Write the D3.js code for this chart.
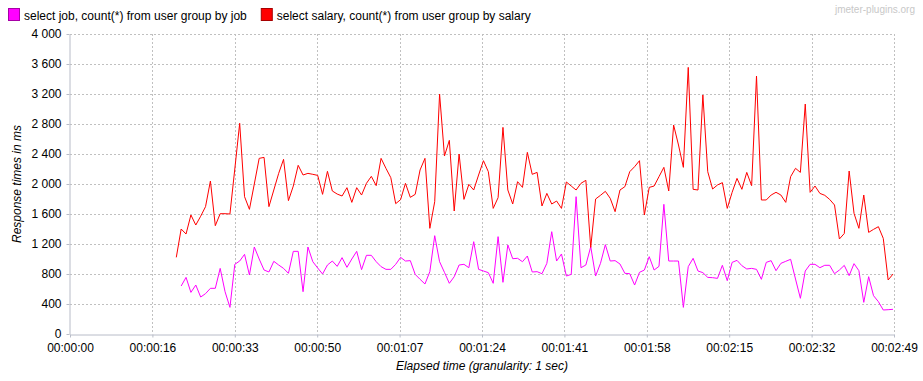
<!DOCTYPE html>
<html>
<head>
<meta charset="utf-8">
<script src="https://cdn.jsdelivr.net/npm/d3@7"></script>
<style>
  html, body { margin: 0; padding: 0; background: #ffffff; }
  svg { display: block; font-family: "Liberation Sans", Arial, sans-serif; }
</style>
</head>
<body>
<svg id="chart" width="923" height="381"></svg>
<script>
// ---------- data ----------
const seriesNames = [
  "select job, count(*) from user group by job",
  "select salary, count(*) from user group by salary"
];
const seriesColors = ["#ff00ff", "#ff0000"];

// elapsed second of the first sample of each series
const jobStart = 22.8;
const salaryStart = 21.8;

// response times (ms), one sample per second
const jobValues = [
  640, 755, 555, 653, 493, 538, 609, 609, 875, 564, 355, 929, 973, 1062, 787, 1160, 1000, 853, 827, 969,
  920, 875, 809, 1102, 1102, 564, 1160, 964, 880, 800, 920, 973, 902, 1018, 889, 1000, 1102, 858, 1049, 1049,
  964, 898, 862, 862, 929, 1022, 973, 978, 795, 729, 667, 831, 1311, 964, 822, 676, 764, 920, 929, 884,
  1231, 862, 840, 818, 676, 1298, 689, 1187, 1004, 1009, 964, 1040, 827, 831, 804, 942, 1364, 973, 1067, 773,
  795, 1831, 884, 920, 1164, 773, 942, 1191, 973, 978, 933, 809, 804, 653, 822, 853, 1031, 853, 902, 1729,
  973, 973, 973, 355, 898, 1009, 840, 818, 755, 751, 742, 916, 711, 955, 982, 911, 867, 875, 862, 729,
  955, 978, 844, 942, 969, 996, 733, 476, 840, 929, 929, 884, 916, 916, 804, 853, 915, 778, 938, 844,
  422, 764, 511, 431, 320, 324, 329
];
const salaryValues = [
  1022, 1400, 1333, 1587, 1453, 1570, 1698, 2040, 1444, 1604, 1604, 1600, 2200, 2809, 1831, 1662, 2000, 2342, 2355, 1698,
  1920, 2142, 2329, 1778, 1973, 2249, 2120, 2142, 2129, 2115, 1862, 2169, 1907, 1866, 1840, 1951, 1755, 1951, 1853, 2009,
  2102, 1978, 2342, 2209, 2084, 1738, 1791, 2009, 1822, 1862, 2187, 2342, 1409, 1764, 3200, 2373, 2582, 1640, 2400, 1795,
  1995, 1920, 2120, 2311, 2164, 1675, 1818, 2755, 1920, 1733, 2031, 1955, 2422, 2129, 2155, 1707, 1875, 1733, 1773, 1675,
  2027, 1973, 1920, 2009, 2049, 1155, 1800, 1849, 1902, 1809, 1631, 1920, 1964, 2164, 2231, 2311, 1587, 1955, 1973, 2098,
  2222, 1907, 2786, 2520, 2222, 3555, 1929, 1920, 3187, 2164, 1933, 1987, 2018, 1675, 1889, 2075, 1929, 2155, 1978, 3440,
  1787, 1787, 1853, 1889, 1853, 1755, 2098, 2209, 2155, 3066, 1889, 1973, 1875, 1849, 1795, 1720, 1267, 1340, 2173, 1609,
  1409, 1853, 1355, 1395, 1431, 1275, 720, 800
];

const xMax = 169;          // seconds
const xTickCount = 10;
const yTicks = [0, 400, 800, 1200, 1600, 2000, 2400, 2800, 3200, 3600, 4000];
const xAxisTitle = "Elapsed time (granularity: 1 sec)";
const yAxisTitle = "Response times in ms";
const watermark = "jmeter-plugins.org";

// ---------- layout ----------
const W = 923, H = 381;
const margin = { left: 70, right: 29, top: 34, bottom: 47 };
const svg = d3.select("#chart");

const x = d3.scaleLinear().domain([0, xMax]).range([margin.left, W - margin.right]);
const y = d3.scaleLinear().domain([0, 4000]).range([H - margin.bottom, margin.top]);

const xTickValues = d3.range(0, xTickCount + 1).map(i => i * xMax / xTickCount);
const pad = n => String(n).padStart(2, "0");
const fmtTime = t => {
  const s = Math.floor(t + 1e-9);
  return pad(Math.floor(s / 3600)) + ":" + pad(Math.floor(s / 60) % 60) + ":" + pad(s % 60);
};
const loc = d3.formatLocale({ decimal: ".", thousands: "\u00a0", grouping: [3], currency: ["", ""] });
const fmtY = loc.format(",d");

const gridColor = "#c0c0c0";
const axisColor = "#b8bcc8";

// grid
const grid = svg.append("g");
grid.selectAll("line.h").data(yTicks.filter(v => v > 0)).join("line")
  .attr("x1", margin.left).attr("x2", W - margin.right)
  .attr("y1", d => Math.round(y(d)) + 0.5).attr("y2", d => Math.round(y(d)) + 0.5)
  .attr("stroke", gridColor).attr("stroke-width", 1).attr("stroke-dasharray", "2,2");
grid.selectAll("line.v").data(xTickValues.filter(v => v > 0)).join("line")
  .attr("y1", margin.top).attr("y2", H - margin.bottom)
  .attr("x1", d => Math.round(x(d)) + 0.5).attr("x2", d => Math.round(x(d)) + 0.5)
  .attr("stroke", gridColor).attr("stroke-width", 1).attr("stroke-dasharray", "2,2");

// axes
const xAxis = d3.axisBottom(x).tickValues(xTickValues).tickFormat(fmtTime).tickSize(3).tickSizeOuter(0);
const yAxis = d3.axisLeft(y).tickValues(yTicks).tickFormat(fmtY).tickSize(3).tickSizeOuter(0);

const gx = svg.append("g").attr("transform", `translate(0,${Math.round(y(0)) + 0.5})`).call(xAxis);
const gy = svg.append("g").attr("transform", `translate(${Math.round(x(0)) - 0.5},0)`).call(yAxis);
[gx, gy].forEach(g => {
  g.select(".domain").attr("stroke", axisColor);
  g.selectAll(".tick line").attr("stroke", axisColor);
  g.selectAll(".tick text").attr("fill", "#000").style("font-size", "12px")
    .style("font-family", '"Liberation Sans", Arial, sans-serif');
});
gx.selectAll(".tick text").attr("dy", "0.71em").attr("y", 9);
gy.selectAll(".tick text").attr("x", -8);

// lines
const lineGen = d3.line().x(d => x(d.t)).y(d => y(d.v));
const jobData = jobValues.map((v, i) => ({ t: jobStart + i, v }));
const salaryData = salaryValues.map((v, i) => ({ t: salaryStart + i, v }));

svg.append("path").datum(jobData).attr("d", lineGen)
  .attr("fill", "none").attr("stroke", seriesColors[0]).attr("stroke-width", 1);
svg.append("path").datum(salaryData).attr("d", lineGen)
  .attr("fill", "none").attr("stroke", seriesColors[1]).attr("stroke-width", 1);

// axis titles
svg.append("text").attr("x", (x(0) + x(xMax)) / 2).attr("y", 370)
  .attr("text-anchor", "middle").style("font-size", "12px").style("font-style", "italic")
  .text(xAxisTitle);
svg.append("text").attr("transform", `translate(21,${(y(0) + y(4000)) / 2}) rotate(-90)`)
  .attr("text-anchor", "middle").style("font-size", "12px").style("font-style", "italic")
  .text(yAxisTitle);

// legend
let lx = 8;
seriesNames.forEach((name, i) => {
  svg.append("rect").attr("x", lx + 0.5).attr("y", 8.5).attr("width", 11).attr("height", 12)
    .attr("fill", seriesColors[i]).attr("stroke", d3.color(seriesColors[i]).darker(1.2)).attr("stroke-width", 1);
  const t = svg.append("text").attr("x", lx + 16).attr("y", 19.5)
    .style("font-size", "12px").text(name);
  lx = lx + 16 + t.node().getComputedTextLength() + 14;
});

// watermark
svg.append("text").attr("x", 915).attr("y", 13).attr("text-anchor", "end")
  .style("font-size", "10px").attr("fill", "#c8c8c8").text(watermark);
</script>
</body>
</html>
